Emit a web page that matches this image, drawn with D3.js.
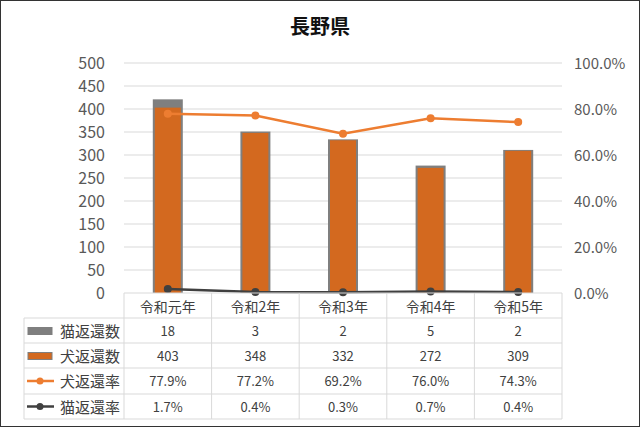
<!DOCTYPE html><html><head><meta charset="utf-8"><script src="https://cdn.jsdelivr.net/npm/d3@7"></script>
<style>body{margin:0;background:#fff}svg{font-family:"Noto Sans CJK JP","Noto Sans",sans-serif}</style></head><body><svg width="640" height="427"></svg><script>
const categories=["令和元年","令和2年","令和3年","令和4年","令和5年"];
const catReturn=[18,3,2,5,2];
const dogReturn=[403,348,332,272,309];
const dogRate=[77.9,77.2,69.2,76.0,74.3];
const catRate=[1.7,0.4,0.3,0.7,0.4];
const leftTicks=[0,50,100,150,200,250,300,350,400,450,500];
const rightTicks=[0,20,40,60,80,100];
const svg=d3.select("svg");
svg.append("rect").attr("x",0.5).attr("y",0.5).attr("width",639).attr("height",426).attr("fill","#fff").attr("stroke","#333");
svg.append("text").attr("x",320).attr("y",34).attr("text-anchor","middle").attr("font-size",20).attr("font-weight","bold").attr("fill","#111").text("長野県");
const x0=124,x1=562,yT=63,yB=293;
const x=d3.scaleBand().domain(categories).range([x0,x1]);
const y=d3.scaleLinear().domain([0,500]).range([yB,yT]);
const yr=d3.scaleLinear().domain([0,100]).range([yB,yT]);
svg.append("g").selectAll("line").data(leftTicks.slice(1)).join("line").attr("x1",x0).attr("x2",x1).attr("y1",d=>y(d)).attr("y2",d=>y(d)).attr("stroke","#d9d9d9");
svg.append("g").selectAll("text").data(leftTicks).join("text").attr("x",105).attr("y",d=>y(d)+6).attr("text-anchor","end").attr("font-size",16).attr("fill","#595959").text(d=>d);
svg.append("g").selectAll("text").data(rightTicks).join("text").attr("x",574).attr("y",d=>yr(d)+6).attr("font-size",15).attr("fill","#595959").text(d=>d.toFixed(1)+"%");
const bw=30;
categories.forEach((c,i)=>{const cx=x(c)+x.bandwidth()/2;
svg.append("rect").attr("x",cx-bw/2).attr("width",bw).attr("y",y(dogReturn[i]+catReturn[i])).attr("height",yB-y(dogReturn[i]+catReturn[i])).attr("fill","#7f7f7f");
svg.append("rect").attr("x",cx-bw/2+2).attr("width",bw-4).attr("y",y(dogReturn[i])).attr("height",yB-y(dogReturn[i])).attr("fill","#d3691f");});
const cxf=(c)=>x(c)+x.bandwidth()/2;
function line(vals,col){svg.append("path").attr("d",d3.line().x((d,i)=>cxf(categories[i])).y(d=>yr(d))(vals)).attr("fill","none").attr("stroke",col).attr("stroke-width",2.5);
svg.append("g").selectAll("circle").data(vals).join("circle").attr("cx",(d,i)=>cxf(categories[i])).attr("cy",d=>yr(d)).attr("r",4).attr("fill",col);}
line(dogRate,"#ed7d31");line(catRate,"#404040");
// table
const rows=[293,318,343,368,394,419];const tl=24;
const g=svg.append("g").attr("stroke","#d9d9d9");
g.append("line").attr("x1",x0).attr("x2",x1).attr("y1",yB).attr("y2",yB);
rows.slice(1).forEach(r=>g.append("line").attr("x1",tl).attr("x2",x1).attr("y1",r).attr("y2",r));
g.append("line").attr("x1",tl).attr("x2",tl).attr("y1",318).attr("y2",419);
[x0,...categories.map(c=>x(c)+x.bandwidth())].forEach(xx=>g.append("line").attr("x1",xx).attr("x2",xx).attr("y1",yB).attr("y2",419));
categories.forEach(c=>svg.append("text").attr("x",cxf(c)).attr("y",312).attr("text-anchor","middle").attr("font-size",14).attr("fill","#404040").text(c));
const tdata=[["猫返還数",catReturn.map(String)],["犬返還数",dogReturn.map(String)],["犬返還率",dogRate.map(d=>d.toFixed(1)+"%")],["猫返還率",catRate.map(d=>d.toFixed(1)+"%")]];
tdata.forEach((r,j)=>{const yc=(rows[j+1]+rows[j+2])/2;
svg.append("text").attr("x",120).attr("y",yc+6).attr("text-anchor","end").attr("font-size",15).attr("fill","#404040").text(r[0]);
r[1].forEach((v,i)=>svg.append("text").attr("x",cxf(categories[i])).attr("y",yc+5).attr("text-anchor","middle").attr("font-size",13).attr("fill","#404040").text(v));
if(j<2){svg.append("rect").attr("x",28).attr("y",yc-3).attr("width",24).attr("height",7).attr("fill",j==0?"#7f7f7f":"#d3691f").attr("stroke","#7f7f7f");}
else{const col=j==2?"#ed7d31":"#404040";svg.append("line").attr("x1",27).attr("x2",54).attr("y1",yc).attr("y2",yc).attr("stroke",col).attr("stroke-width",2.5);svg.append("circle").attr("cx",40).attr("cy",yc).attr("r",3.5).attr("fill",col);}
});
</script></body></html>
